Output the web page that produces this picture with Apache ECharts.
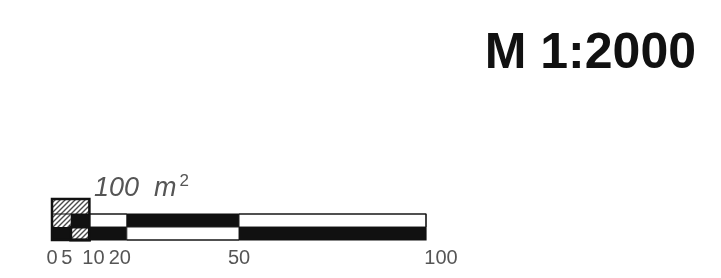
<!DOCTYPE html>
<html>
<head>
<meta charset="utf-8">
<script src="https://cdn.jsdelivr.net/npm/echarts@6/dist/echarts.min.js"></script>
<style>
  html, body { margin: 0; padding: 0; background: #fff; }
  #chart { width: 721px; height: 278px; }
</style>
</head>
<body>
<div id="chart"></div>
<script>
'use strict';
// scale bar data (metres)
var breaks = [0, 5, 10, 20, 50, 100];
var upperFill = ['hatch', 'black', 'white', 'black', 'white'];
var lowerFill = ['black', 'hatch', 'black', 'white', 'black'];
var tickLabels = [0, 5, 10, 20, 50, 100];
var squareSide = 10;       // 10 m x 10 m = 100 m2
var squareTop = 3.15;      // top of the area square, in row units
var areaText = '100';
var scaleText = 'M 1:2000';

/* hatch pattern for the area square */
var tile = document.createElement('canvas');
tile.width = 5; tile.height = 5;
var tctx = tile.getContext('2d');
tctx.fillStyle = '#fff';
tctx.fillRect(0, 0, 5, 5);
tctx.strokeStyle = '#4a4a4a';
tctx.lineWidth = 1.4;
tctx.beginPath();
tctx.moveTo(-1, 6); tctx.lineTo(6, -1);
tctx.moveTo(-1, 1); tctx.lineTo(1, -1);
tctx.moveTo(4, 6); tctx.lineTo(6, 4);
tctx.stroke();

var fills = {
  black: '#111',
  white: '#fff',
  hatch: { image: tile, repeat: 'repeat' }
};

// cells: [x0, x1, y0, y1, kind]
var cells = [];
cells.push([0, squareSide, 2, squareTop, 'hatch']);
for (var i = 0; i < breaks.length - 1; i++) {
  cells.push([breaks[i], breaks[i + 1], 1, 2, upperFill[i]]);
  cells.push([breaks[i], breaks[i + 1], 0, 1, lowerFill[i]]);
}
// outlines drawn on top
var frames = [
  [breaks[0], breaks[breaks.length - 1], 0, 2, 'bar'],
  [0, squareSide, 0, squareTop, 'square']
];

function drawCell(params, api) {
  var p0 = api.coord([api.value(0), api.value(3)]);
  var p1 = api.coord([api.value(1), api.value(2)]);
  var kind = cells[params.dataIndex][4];
  var inner = kind === 'hatch' && api.value(2) === 0;
  return {
    type: 'rect',
    shape: { x: p0[0], y: p0[1], width: p1[0] - p0[0], height: p1[1] - p0[1] },
    style: {
      fill: fills[kind],
      stroke: inner ? '#111' : (kind === 'white' ? '#222' : null),
      lineWidth: inner ? 3 : 1
    }
  };
}

function drawFrame(params, api) {
  var p0 = api.coord([api.value(0), api.value(3)]);
  var p1 = api.coord([api.value(1), api.value(2)]);
  var kind = frames[params.dataIndex][4];
  return {
    type: 'rect',
    shape: { x: p0[0], y: p0[1], width: p1[0] - p0[0], height: p1[1] - p0[1] },
    style: { fill: null, stroke: '#111', lineWidth: kind === 'square' ? 2.5 : 1.2 }
  };
}

// small sideways nudges of the tick labels, as lettered on the original
var labelNudge = { 5: -4, 10: 4, 20: -7, 100: 15 };
var labelFont = 'Liberation Sans, Arial, sans-serif';

var chart = echarts.init(document.getElementById('chart'), null, { renderer: 'canvas' });
chart.setOption({
  backgroundColor: '#fff',
  animation: false,
  title: [{
    text: scaleText,
    right: 20, top: 24,
    textStyle: { fontFamily: labelFont, fontWeight: 'bold', fontSize: 50, color: '#111' }
  }, {
    text: '{a|' + areaText + '  m}{s|2}',
    left: 89, top: 168,
    textStyle: {
      fontWeight: 'normal',
      rich: {
        a: { fontFamily: labelFont, fontStyle: 'italic', fontWeight: 'normal', fontSize: 27, color: '#555' },
        s: { fontFamily: labelFont, fontWeight: 'normal', fontSize: 17, color: '#555', verticalAlign: 'top', padding: [0, 0, 14, 3] }
      }
    }
  }],
  grid: { left: 52, right: 295, top: 188, bottom: 38 },
  xAxis: {
    type: 'value', min: 0, max: 100,
    axisLine: { show: false }, axisTick: { show: false }, splitLine: { show: false },
    axisLabel: {
      customValues: tickLabels,
      margin: 8,
      color: '#555',
      fontFamily: labelFont,
      fontSize: 20,
      formatter: function (v) {
        var s = labelNudge[v] || 0;
        if (s > 0) return '{r' + s + '|' + v + '}';
        if (s < 0) return '{l' + (-s) + '|' + v + '}';
        return '{n|' + v + '}';
      },
      rich: {
        n: { fontFamily: labelFont, fontSize: 20, color: '#555' },
        r4: { fontFamily: labelFont, fontSize: 20, color: '#555', padding: [0, 0, 0, 8] },
        r15: { fontFamily: labelFont, fontSize: 20, color: '#555', padding: [0, 0, 0, 30] },
        l4: { fontFamily: labelFont, fontSize: 20, color: '#555', padding: [0, 8, 0, 0] },
        l7: { fontFamily: labelFont, fontSize: 20, color: '#555', padding: [0, 14, 0, 0] }
      }
    }
  },
  yAxis: { type: 'value', min: 0, max: 4, show: false },
  series: [{
    type: 'custom', renderItem: drawCell, data: cells,
    encode: { x: [0, 1], y: [2, 3] }, z: 2
  }, {
    type: 'custom', renderItem: drawFrame, data: frames,
    encode: { x: [0, 1], y: [2, 3] }, z: 3
  }]
});
</script>
</body>
</html>
